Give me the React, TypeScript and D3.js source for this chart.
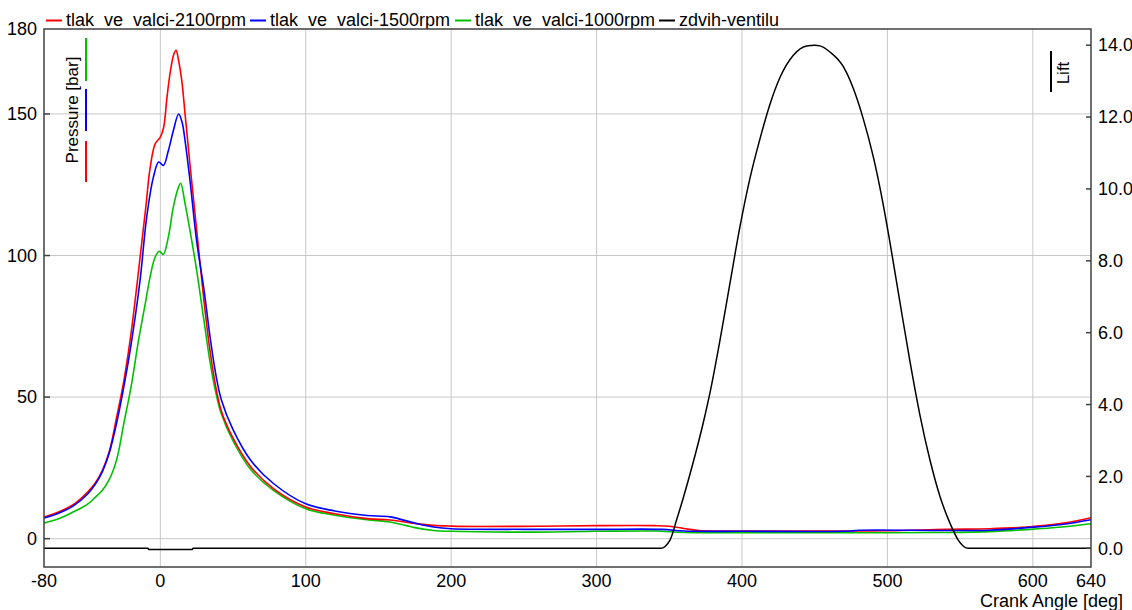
import * as d3 from "d3";

// cylinder pressure traces [bar] vs crank angle [deg]
const angle2100 = [-80, -70, -60, -50, -45, -40, -35, -30, -25, -20, -16, -13, -10, -7, -3.5, 0, 2.3, 4.6, 6.9, 9.2, 10.8, 12.5, 14.7, 17, 20.4, 25, 30, 34, 38, 42, 50, 62, 78, 100, 120, 142, 158, 175, 188, 200, 220, 260, 300, 340, 350, 360, 370, 400, 450, 500, 540, 570, 596, 620, 640];
const pressure2100 = [7.6, 9.4, 12, 16.5, 19.5, 24, 31, 43, 56, 73, 90, 103.5, 117, 131, 139.5, 141.8, 145.3, 156, 165, 171, 172.5, 169, 162, 150, 132, 109, 84, 67, 54, 45, 35.5, 25.5, 17.6, 11.2, 8.8, 7.1, 6.6, 5.4, 4.7, 4.45, 4.3, 4.4, 4.6, 4.6, 4.4, 3.6, 2.9, 2.7, 2.7, 2.8, 3.3, 3.5, 4.1, 5.4, 7.4];

const angle1500 = [-80, -70, -60, -50, -45, -40, -35, -30, -25, -20, -14, -9.4, -4.8, -1.1, 2.1, 5.5, 8.9, 12.6, 15, 17, 20.4, 25, 30, 34, 38, 42, 50, 62, 78, 100, 120, 142, 158, 175, 188, 200, 250, 300, 345, 360, 400, 475, 480, 540, 570, 596, 620, 640];
const pressure1500 = [7.3, 9.0, 11.5, 15.8, 19, 23.5, 30.5, 41, 54, 69, 91, 113.5, 127.6, 133, 131.8, 137, 144, 150, 147, 140.6, 126.5, 105, 88, 72, 58.5, 49, 38.5, 27.8, 19.4, 12.3, 9.8, 8.2, 7.7, 5.5, 4.1, 3.5, 3.3, 3.3, 3.3, 2.7, 2.6, 2.7, 3.0, 2.9, 3.0, 3.9, 5.0, 6.7];

const angle1000 = [-80, -70, -60, -50, -45, -40, -35, -30, -25, -20, -15, -10, -7.1, -3.6, -0.7, 2, 5.5, 8.9, 12.4, 14, 17, 20.4, 25, 30, 34, 38, 42, 50, 62, 78, 100, 120, 142, 158, 175, 188, 200, 250, 300, 340, 360, 400, 500, 540, 570, 596, 620, 640];
const pressure1000 = [5.5, 7, 9.4, 12.2, 14.5, 17, 21, 28, 41, 54, 70, 84, 92.3, 99.4, 101.5, 100.4, 106.5, 117, 124, 125.5, 118.3, 108.8, 94.7, 77, 63, 52, 44, 34.5, 24.5, 17, 10.6, 8.3, 6.7, 5.9, 3.9, 2.9, 2.6, 2.3, 2.6, 2.7, 2.2, 2.1, 2.1, 2.2, 2.5, 3.2, 4.1, 5.3];

// valve lift [mm]
const liftAngle = [-80, -8.5, -8, 22, 22.5, 344, 350.5, 355.1, 359.6, 366.5, 373.4, 379.1, 384.9, 391.7, 398.6, 405.5, 412.4, 419.2, 426.1, 435.3, 444.4, 450, 453.6, 460.5, 469.7, 476.5, 483.4, 490.3, 496, 501.8, 508.6, 515.5, 522.4, 529.3, 536.1, 543, 548.7, 555.6, 640];
const liftValue = [0, 0, -0.03, -0.03, 0, 0, 0.23, 0.8, 1.4, 2.4, 3.5, 4.55, 5.8, 7.37, 8.95, 10.3, 11.4, 12.35, 13.1, 13.72, 13.98, 14.0, 13.98, 13.81, 13.4, 12.8, 11.95, 10.89, 9.8, 8.5, 6.85, 5.2, 3.7, 2.45, 1.45, 0.7, 0.23, 0, 0];

const xTicks = [-80, 0, 100, 200, 300, 400, 500, 600, 640];
const xGrid = [0, 100, 200, 300, 400, 500, 600];
const pressureTicks = [0, 50, 100, 150, 180];
const pressureGrid = [0, 50, 100, 150];
const liftTicks = [0, 2, 4, 6, 8, 10, 12, 14];

const legendNames = ["tlak_ve_valci-2100rpm", "tlak_ve_valci-1500rpm", "tlak_ve_valci-1000rpm", "zdvih-ventilu"];
const legendColors = ["#ff0000", "#0000ff", "#00c000", "#000000"];

const W = 1132;
const H = 610;
const left = 44;
const right = 1091;
const top = 29;
const bottom = 567;
const font = "'Liberation Sans', Arial, sans-serif";

const x = d3.scaleLinear().domain([-80, 640]).range([left, right]);
const yP = d3.scaleLinear().domain([-10, 180]).range([bottom, top]);
const yL = d3.scaleLinear().domain([-0.52, 14.45]).range([bottom, top]);

const pLine = d3.line<[number, number]>().x(d => x(d[0])).y(d => yP(d[1])).curve(d3.curveCatmullRom.alpha(0.5));
const lLine = d3.line<[number, number]>().x(d => x(d[0])).y(d => yL(d[1])).curve(d3.curveMonotoneX);

const zip = (a: number[], b: number[]) => a.map((v, i) => [v, b[i]] as [number, number]);

const legendX = [46, 250, 455, 659];

export default function App() {
  return (
    <svg width={W} height={H} style={{ position: "absolute", left: 0, top: 0, background: "#fff" }}>
      <defs>
        <clipPath id="plot">
          <rect x={left} y={top} width={right - left} height={bottom - top} />
        </clipPath>
      </defs>
      {/* legend */}
      {legendNames.map((n, i) => (
        <g key={n}>
          <line x1={legendX[i]} x2={legendX[i] + 16} y1={20.5} y2={20.5} stroke={legendColors[i]} strokeWidth={2} />
          <text x={legendX[i] + 20} y={26} fontFamily={font} fontSize={18}>{n}</text>
        </g>
      ))}
      <rect x={left} y={top} width={right - left} height={bottom - top} fill="#fff" />
      {/* grid */}
      {xGrid.map(t => (
        <line key={"gx" + t} x1={x(t)} x2={x(t)} y1={top} y2={bottom} stroke="#c8c8c8" strokeWidth={1} />
      ))}
      {pressureGrid.map(t => (
        <line key={"gy" + t} x1={left} x2={right} y1={yP(t)} y2={yP(t)} stroke="#c8c8c8" strokeWidth={1} />
      ))}
      {/* axis titles inside plot */}
      <text transform={`translate(78,110) rotate(-90)`} textAnchor="middle" fontFamily={font} fontSize={17}>Pressure [bar]</text>
      <line x1={86} x2={86} y1={38} y2={81} stroke="#00c000" strokeWidth={2} />
      <line x1={86} x2={86} y1={89} y2={131} stroke="#0000ff" strokeWidth={2} />
      <line x1={86} x2={86} y1={141} y2={182} stroke="#ff0000" strokeWidth={2} />
      <text transform={`translate(1069,73) rotate(-90)`} textAnchor="middle" fontFamily={font} fontSize={17}>Lift</text>
      <line x1={1051} x2={1051} y1={51} y2={92} stroke="#000" strokeWidth={2} />
      {/* data */}
      <g clipPath="url(#plot)" fill="none" strokeWidth={1.6}>
        <path d={pLine(zip(angle1000, pressure1000)) || ""} stroke="#00c000" />
        <path d={pLine(zip(angle2100, pressure2100)) || ""} stroke="#ff0000" />
        <path d={pLine(zip(angle1500, pressure1500)) || ""} stroke="#0000ff" />
        <path d={lLine(zip(liftAngle, liftValue)) || ""} stroke="#000" strokeWidth={1.5} />
      </g>
      {/* frame */}
      <rect x={left} y={top} width={right - left} height={bottom - top} fill="none" stroke="#404040" strokeWidth={1.5} />
      {/* left axis */}
      {pressureTicks.map(t => (
        <g key={"pl" + t}>
          {t < 180 && <line x1={left} x2={left + 6} y1={yP(t)} y2={yP(t)} stroke="#404040" strokeWidth={1.5} />}
          <text x={37} y={yP(t)} dy="0.35em" textAnchor="end" fontFamily={font} fontSize={18}>{t}</text>
        </g>
      ))}
      {/* right axis */}
      {liftTicks.map(t => (
        <g key={"ll" + t}>
          <line x1={right - 5} x2={right} y1={yL(t)} y2={yL(t)} stroke="#404040" strokeWidth={1.5} />
          <text x={1098} y={yL(t)} dy="0.35em" fontFamily={font} fontSize={18}>{t.toFixed(1)}</text>
        </g>
      ))}
      {/* bottom axis */}
      {xTicks.map(t => (
        <text key={"xt" + t} x={x(t)} y={587} textAnchor="middle" fontFamily={font} fontSize={18}>{t}</text>
      ))}
      <text x={1123} y={607} textAnchor="end" fontFamily={font} fontSize={18}>Crank Angle [deg]</text>
    </svg>
  );
}
